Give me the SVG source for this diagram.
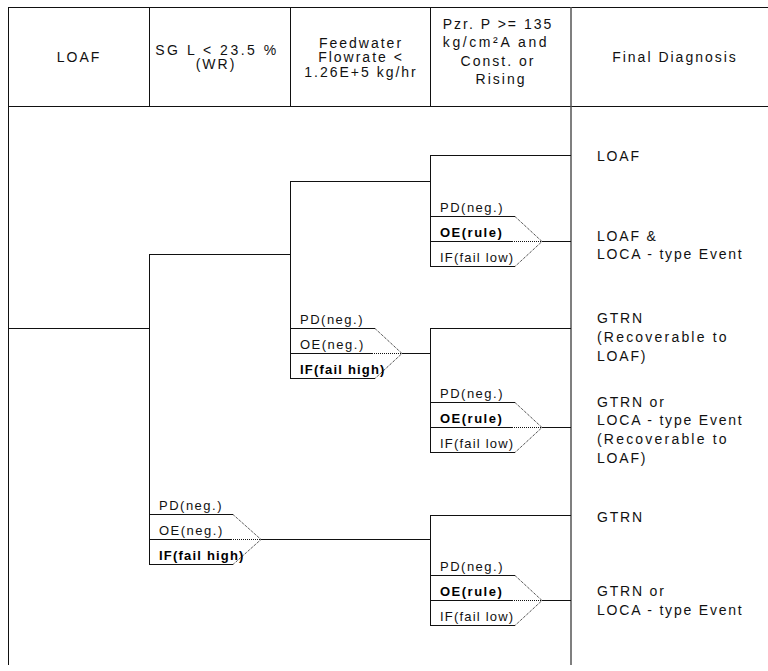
<svg xmlns="http://www.w3.org/2000/svg" width="768" height="671" viewBox="0 0 768 671">
<style>
.ln{stroke:#111;stroke-width:1;fill:none}
.gr{stroke:#555;stroke-width:1.5;fill:none}
.dot{stroke:#111;stroke-width:1;fill:none;stroke-dasharray:1 1}
.h{font-family:"Liberation Sans",Arial,sans-serif;font-size:14px;letter-spacing:2px;fill:#111;text-anchor:middle}
.r{font-family:"Liberation Sans",Arial,sans-serif;font-size:14px;letter-spacing:1.8px;fill:#111}
.l{font-family:"Liberation Sans",Arial,sans-serif;font-size:13px;letter-spacing:1.5px;fill:#111}
.b{font-family:"Liberation Sans",Arial,sans-serif;font-size:13px;font-weight:bold;letter-spacing:1.2px;fill:#000}
</style>
<rect width="768" height="671" fill="#fff"/>
<g id="table">
<path class="ln" d="M8,7.5H768M8,106.5H768M8.5,7V665M149.5,7V106M290.5,7V106M430.5,7V106"/>
<path class="gr" d="M571,7V665"/>
</g>
<g id="hdr-loaf"><text class="h" x="79" y="62">LOAF</text></g>
<g id="hdr-sgl"><text class="h" x="217" y="55" style="letter-spacing:2.5px">SG L &lt; 23.5 %</text><text class="h" x="216" y="69">(WR)</text></g>
<g id="hdr-fw"><text class="h" x="361" y="48">Feedwater</text><text class="h" x="361" y="62">Flowrate &lt;</text><text class="h" x="361" y="77">1.26E+5 kg/hr</text></g>
<g id="hdr-pzr"><text class="h" x="498" y="29">Pzr. P &gt;= 135</text><text class="h" x="496" y="47" style="letter-spacing:2.6px">kg/cm²A and</text><text class="h" x="498" y="66">Const. or</text><text class="h" x="501" y="84">Rising</text></g>
<g id="hdr-final"><text class="h" x="675" y="62">Final Diagnosis</text></g>
<g id="connectors">
<path class="ln" d="M8,328.5H149M149.5,254V564M149,254.5H290M290.5,181V378M290,181.5H430M430.5,155V266M430,155.5H571M542,241.5H571M402,353.5H430M430.5,328V452M430,328.5H571M542,427.5H571M261,539.5H430M430.5,515V625M430,515.5H571M542,600.5H571"/>
</g>
<g id="box1">
<path class="ln" d="M149,514.5H233M149,539.5H231M149,564.5H233"/>
<path class="dot" d="M233,514.5L261,539.5L233,564.5M231,539.5H261"/>
<text class="l" x="159" y="510">PD(neg.)</text>
<text class="l" x="159" y="535">OE(neg.)</text>
<text class="b" x="159" y="560">IF(fail high)</text>
</g>
<g id="box2">
<path class="ln" d="M290,328.5H375M290,353.5H372M290,378.5H375"/>
<path class="dot" d="M375,328.5L402,353.5L375,378.5M372,353.5H402"/>
<text class="l" x="300" y="324">PD(neg.)</text>
<text class="l" x="300" y="349">OE(neg.)</text>
<text class="b" x="300" y="374">IF(fail high)</text>
</g>
<g id="box3">
<path class="ln" d="M430,216.5H515M430,241.5H512M430,266.5H515"/>
<path class="dot" d="M515,216.5L542,241.5L515,266.5M512,241.5H542"/>
<text class="l" x="440" y="212">PD(neg.)</text>
<text class="b" x="440" y="237" style="letter-spacing:1.5px">OE(rule)</text>
<text class="l" x="440" y="262" style="letter-spacing:1.2px">IF(fail low)</text>
</g>
<g id="box4">
<path class="ln" d="M430,402.5H515M430,427.5H512M430,452.5H515"/>
<path class="dot" d="M515,402.5L542,427.5L515,452.5M512,427.5H542"/>
<text class="l" x="440" y="398">PD(neg.)</text>
<text class="b" x="440" y="423" style="letter-spacing:1.5px">OE(rule)</text>
<text class="l" x="440" y="448" style="letter-spacing:1.2px">IF(fail low)</text>
</g>
<g id="box5">
<path class="ln" d="M430,575.5H515M430,600.5H512M430,625.5H515"/>
<path class="dot" d="M515,575.5L542,600.5L515,625.5M512,600.5H542"/>
<text class="l" x="440" y="571">PD(neg.)</text>
<text class="b" x="440" y="596" style="letter-spacing:1.5px">OE(rule)</text>
<text class="l" x="440" y="621" style="letter-spacing:1.2px">IF(fail low)</text>
</g>
<g id="dx1"><text class="r" x="597" y="161">LOAF</text></g>
<g id="dx2"><text class="r" x="597" y="241">LOAF &amp;</text><text class="r" x="597" y="259">LOCA - type Event</text></g>
<g id="dx3"><text class="r" x="597" y="323">GTRN</text><text class="r" x="597" y="342" style="letter-spacing:2.2px">(Recoverable to</text><text class="r" x="597" y="361">LOAF)</text></g>
<g id="dx4"><text class="r" x="597" y="407">GTRN or</text><text class="r" x="597" y="425">LOCA - type Event</text><text class="r" x="597" y="444" style="letter-spacing:2.2px">(Recoverable to</text><text class="r" x="597" y="463">LOAF)</text></g>
<g id="dx5"><text class="r" x="597" y="522">GTRN</text></g>
<g id="dx6"><text class="r" x="597" y="596">GTRN or</text><text class="r" x="597" y="615">LOCA - type Event</text></g>
</svg>
